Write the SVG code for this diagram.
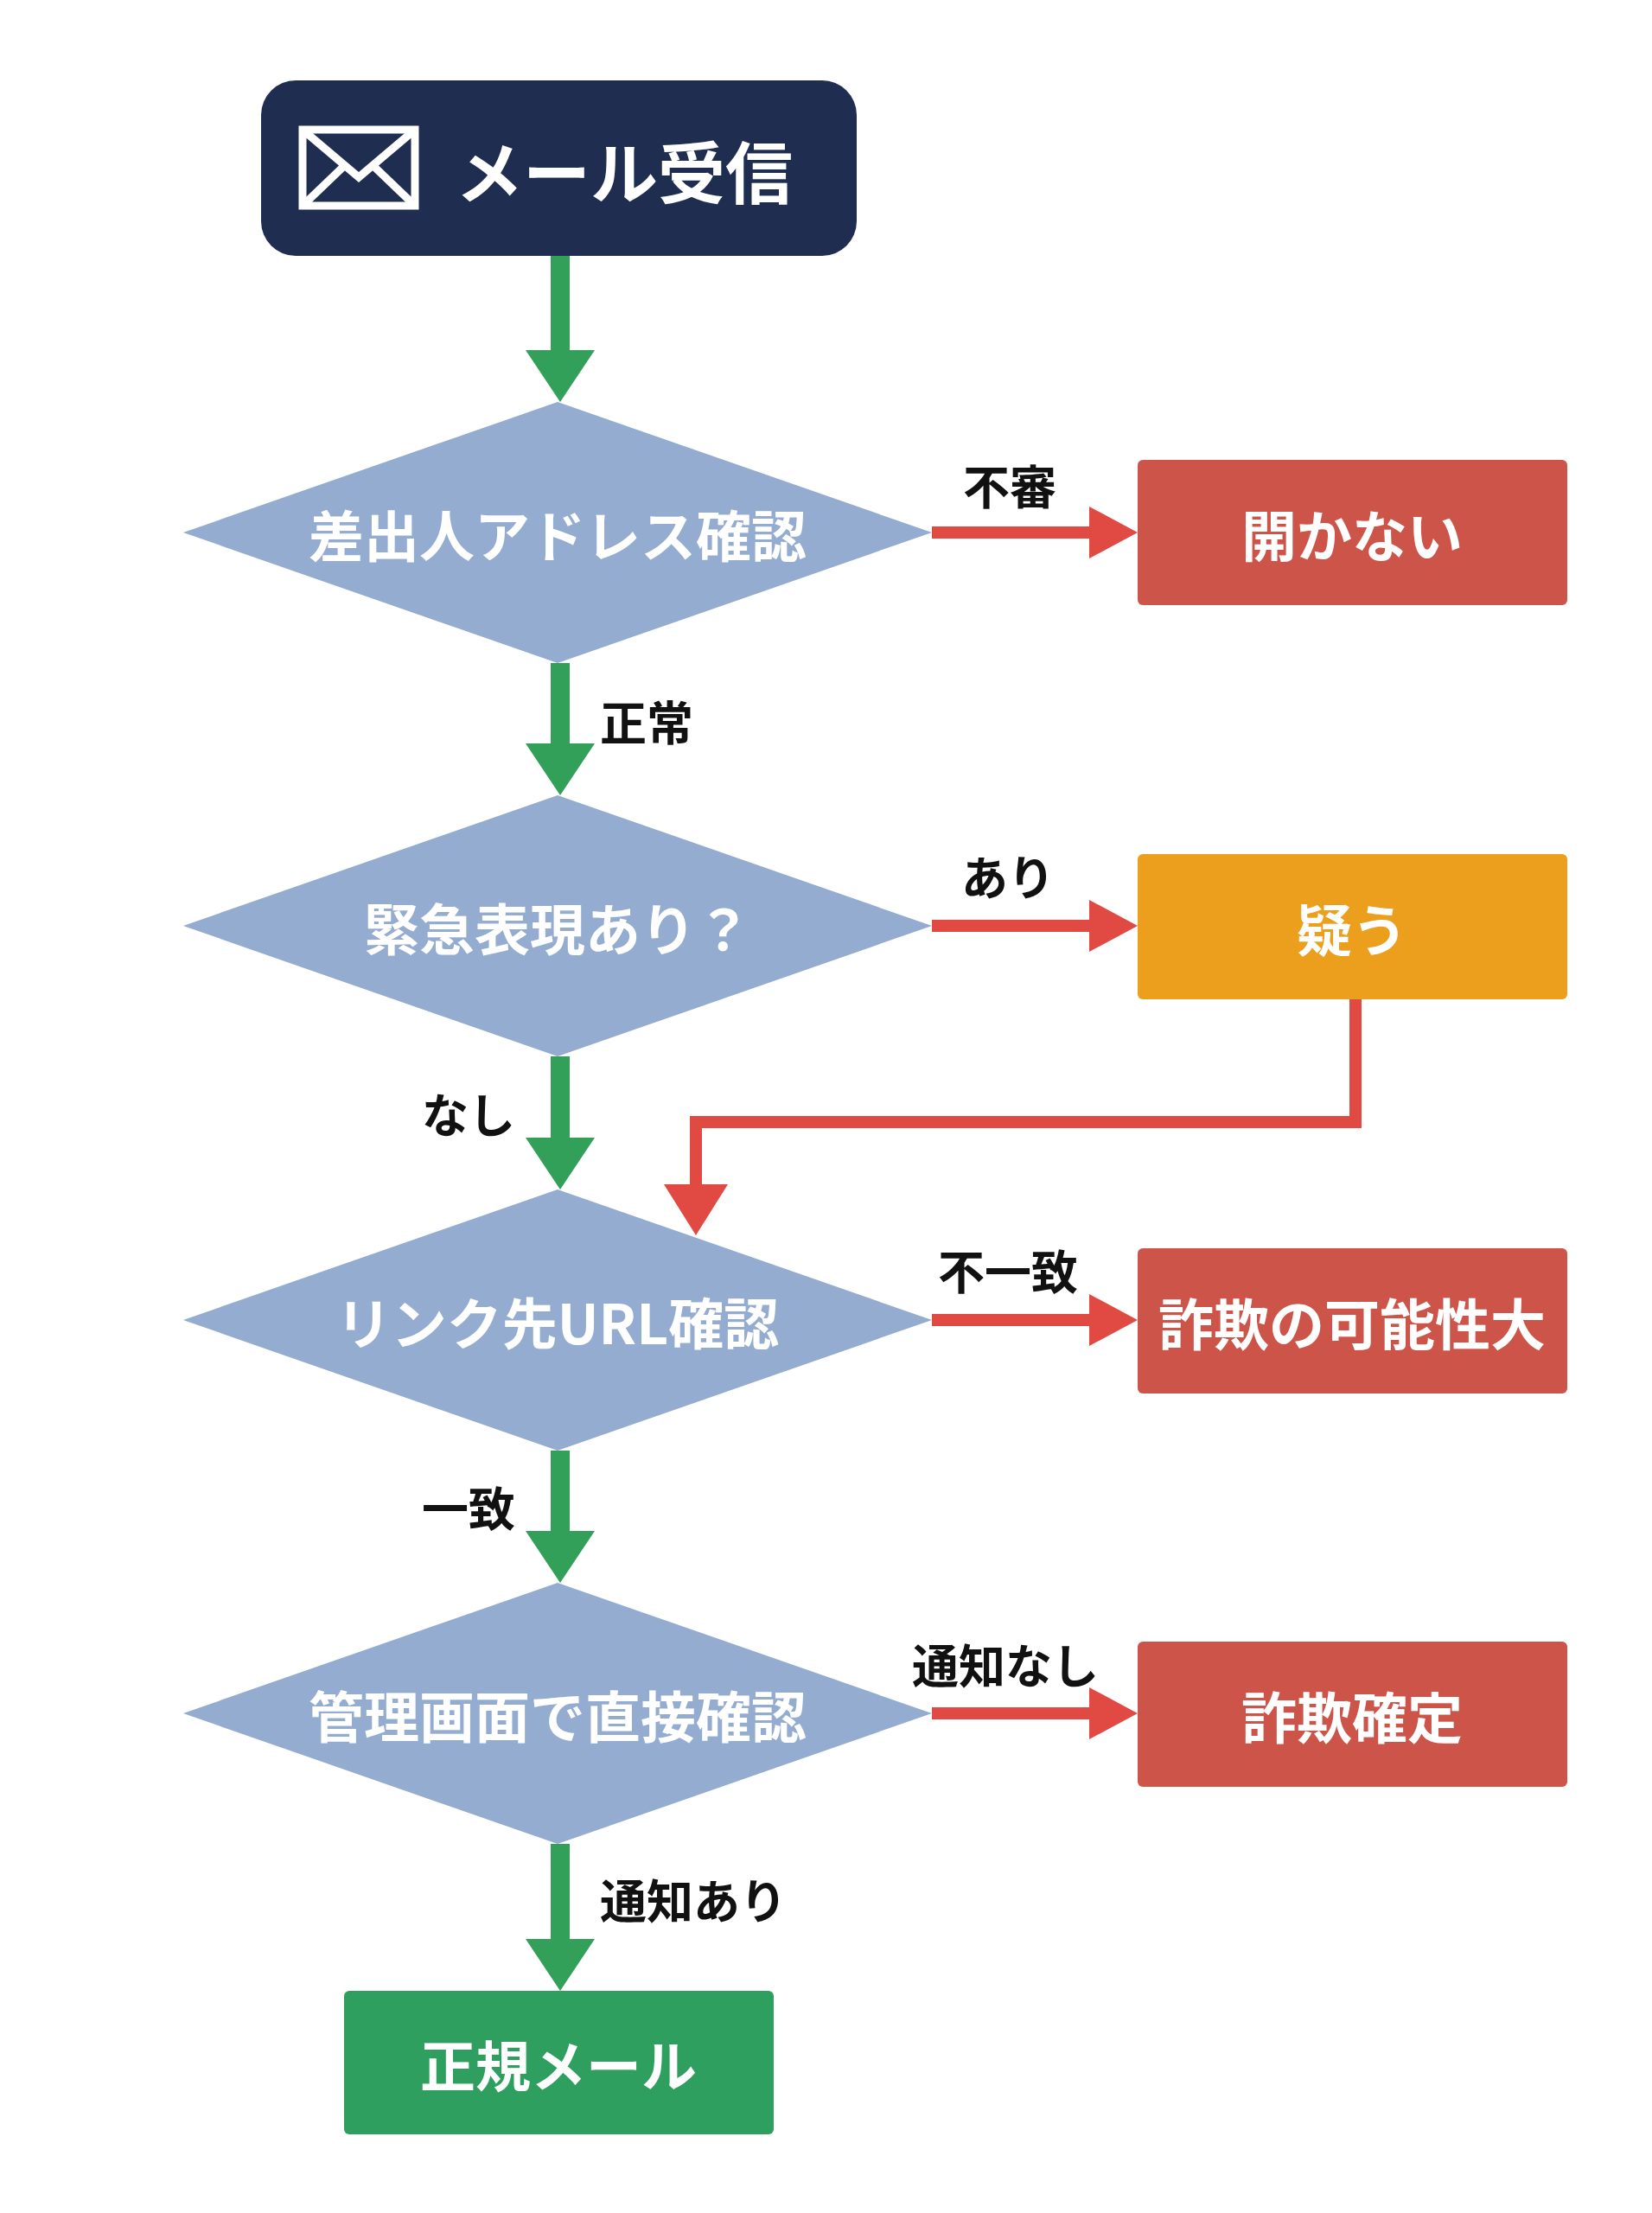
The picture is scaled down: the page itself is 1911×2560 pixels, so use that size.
<svg xmlns="http://www.w3.org/2000/svg" width="1911" height="2560" viewBox="0 0 1911 2560">
<style>
text{font-family:"Noto Sans CJK JP","Noto Sans",sans-serif;font-weight:bold;text-anchor:middle;dominant-baseline:central}
.w{fill:#fff;font-size:64px}
.l{fill:#111;font-size:54px}
.dia{fill:#93acd0}
.red{fill:#cd5449}
.g{stroke:#33a05a;stroke-width:22;fill:none}
.r{stroke:#e14a43;stroke-width:14;fill:none}
</style>
<rect width="1911" height="2560" fill="#fff"/>
<g id="connectors">
<line class="g" x1="648" y1="296" x2="648" y2="410"/><polygon points="608,405 688,405 648,465" fill="#33a05a"/>
<line class="g" x1="648" y1="767" x2="648" y2="865"/><polygon points="608,860 688,860 648,920" fill="#33a05a"/>
<line class="g" x1="648" y1="1222" x2="648" y2="1321"/><polygon points="608,1316 688,1316 648,1376" fill="#33a05a"/>
<line class="g" x1="648" y1="1678" x2="648" y2="1776"/><polygon points="608,1771 688,1771 648,1831" fill="#33a05a"/>
<line class="g" x1="648" y1="2133" x2="648" y2="2248"/><polygon points="608,2243 688,2243 648,2303" fill="#33a05a"/>
<line class="r" x1="1078" y1="616" x2="1266" y2="616"/><polygon points="1260,586 1316,616 1260,646" fill="#e14a43"/>
<line class="r" x1="1078" y1="1071" x2="1266" y2="1071"/><polygon points="1260,1041 1316,1071 1260,1101" fill="#e14a43"/>
<line class="r" x1="1078" y1="1527" x2="1266" y2="1527"/><polygon points="1260,1497 1316,1527 1260,1557" fill="#e14a43"/>
<line class="r" x1="1078" y1="1982" x2="1266" y2="1982"/><polygon points="1260,1952 1316,1982 1260,2012" fill="#e14a43"/>
<polyline class="r" points="1568,1156 1568,1298 805,1298 805,1375"/><polygon points="768,1370 842,1370 805,1429" fill="#e14a43"/>
<text class="l" x="694" y="833" style="text-anchor:start">正常</text>
<text class="l" x="596" y="1287" style="text-anchor:end">なし</text>
<text class="l" x="596" y="1742" style="text-anchor:end">一致</text>
<text class="l" x="694" y="2196" style="text-anchor:start">通知あり</text>
<text class="l" x="1168" y="560">不審</text>
<text class="l" x="1166" y="1012">あり</text>
<text class="l" x="1166" y="1468">不一致</text>
<text class="l" x="1163" y="1924">通知なし</text>
</g>
<g id="start">
<rect x="302" y="93" width="689" height="203" rx="40" fill="#1f2d50"/>
<g stroke="#fff" stroke-width="9" fill="none"><rect x="350" y="150" width="130" height="88"/><polyline points="350,150 415,205 480,150"/><line x1="350" y1="238" x2="398" y2="192"/><line x1="480" y1="238" x2="432" y2="192"/></g>
<text class="w" x="722" y="196" style="font-size:78px">メール受信</text>
</g>
<g id="d1"><polygon class="dia" points="212,616 645,465 1078,616 645,767"/><text class="w" x="645" y="616">差出人アドレス確認</text></g>
<g id="d2"><polygon class="dia" points="212,1071 645,920 1078,1071 645,1222"/><text class="w" x="645" y="1071">緊急表現あり？</text></g>
<g id="d3"><polygon class="dia" points="212,1527 645,1376 1078,1527 645,1678"/><text class="w" x="645" y="1527">リンク先URL確認</text></g>
<g id="d4"><polygon class="dia" points="212,1982 645,1831 1078,1982 645,2133"/><text class="w" x="645" y="1982">管理画面で直接確認</text></g>
<g id="b1"><rect class="red" x="1316" y="532" width="497" height="168" rx="6"/><text class="w" x="1564" y="616">開かない</text></g>
<g id="b2"><rect x="1316" y="988" width="497" height="168" rx="6" fill="#ec9f1c"/><text class="w" x="1564" y="1072">疑う</text></g>
<g id="b3"><rect class="red" x="1316" y="1444" width="497" height="168" rx="6"/><text class="w" x="1564" y="1528">詐欺の可能性大</text></g>
<g id="b4"><rect class="red" x="1316" y="1899" width="497" height="168" rx="6"/><text class="w" x="1564" y="1983">詐欺確定</text></g>
<g id="end"><rect x="398" y="2303" width="497" height="166" rx="6" fill="#2f9f5f"/><text class="w" x="646" y="2386">正規メール</text></g>
</svg>
